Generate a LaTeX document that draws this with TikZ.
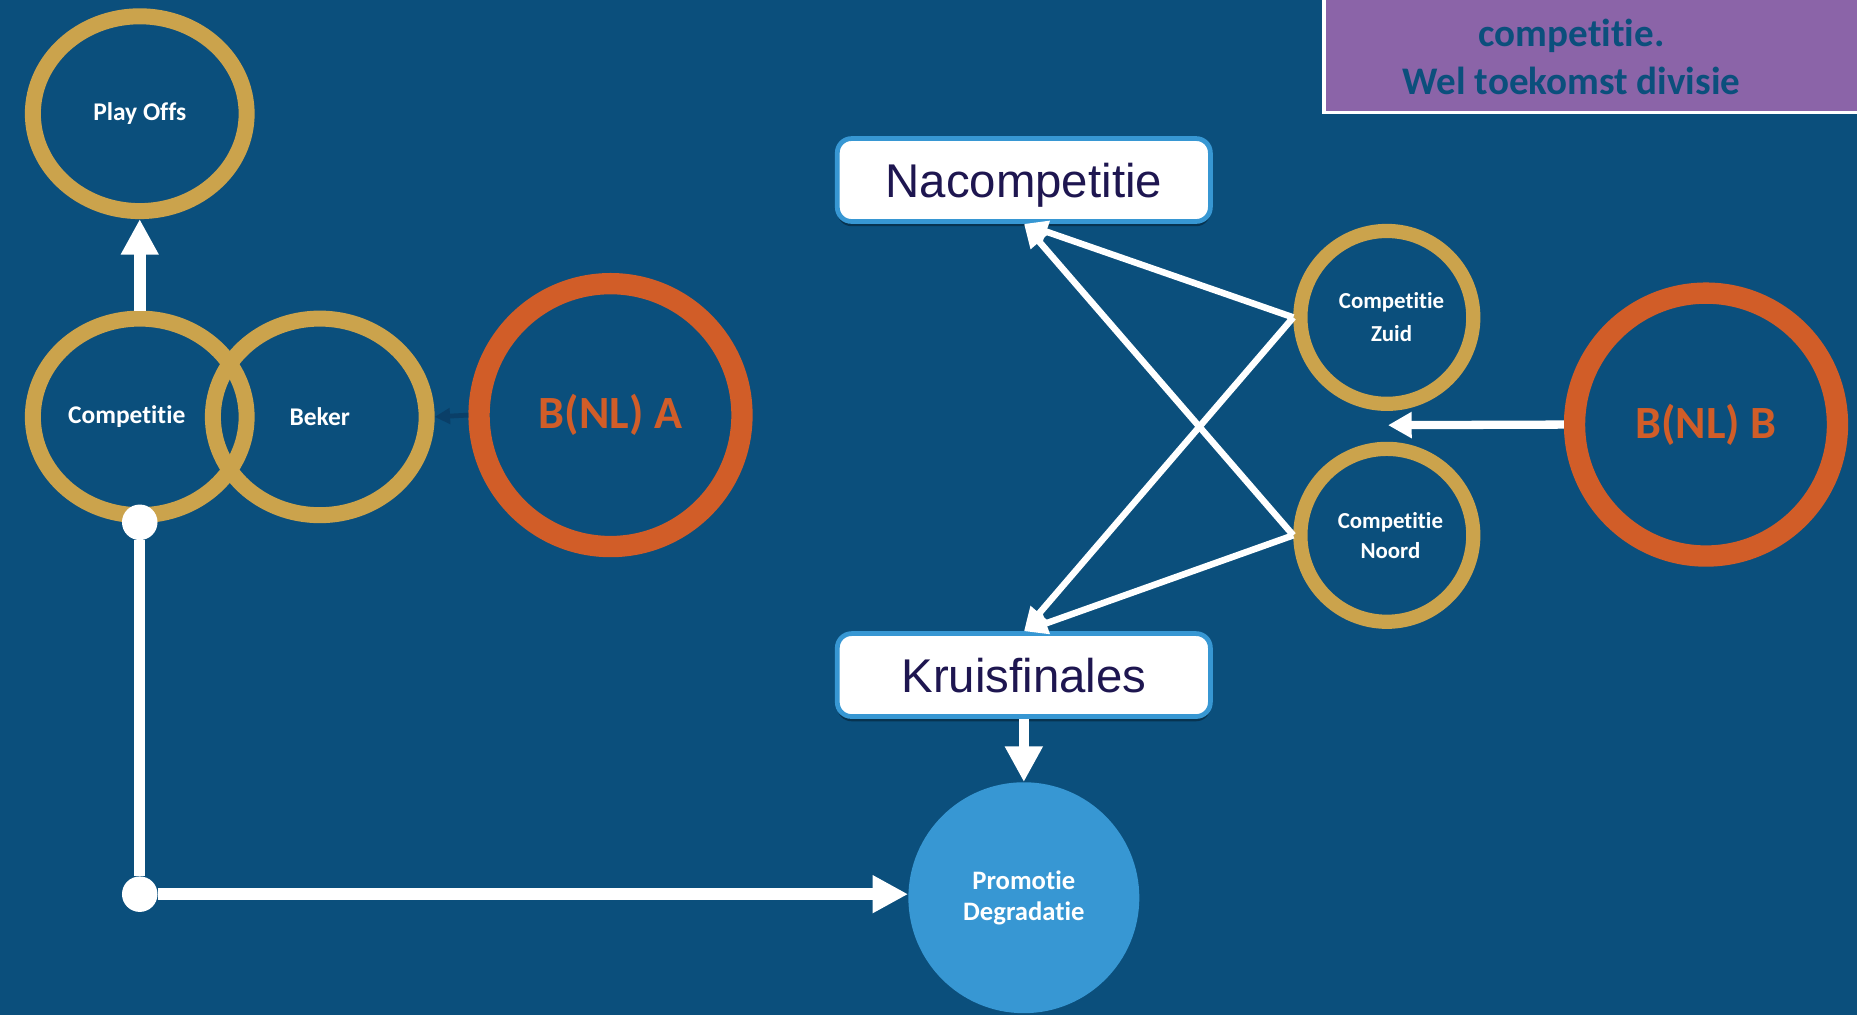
\documentclass[tikz,border=0pt]{standalone}
\usepackage{fontspec}
\setmainfont{Carlito}[Ligatures={NoCommon}]
\newfontfamily\arialf{Liberation Sans}
\usetikzlibrary{shapes.geometric,arrows.meta,shadows}
\definecolor{bg}{HTML}{0B4F7C}
\definecolor{gold}{HTML}{CBA34C}
\definecolor{orng}{HTML}{D15D28}
\definecolor{lblue}{HTML}{3797D3}
\definecolor{purp}{HTML}{8B64A8}
\definecolor{navytxt}{HTML}{1E1650}
\definecolor{darkarr}{HTML}{0A3F68}
\begin{document}
\begin{tikzpicture}[x=1pt,y=-1pt,
  ring/.style={ellipse, draw=gold, line width=13.5pt, inner sep=0pt, text=white,
    font=\bfseries\fontsize{21.5}{26}\selectfont, align=center},
  smallring/.style={ring, line width=12pt, minimum width=146pt, minimum height=146pt,
    font=\bfseries\fontsize{19.3}{25}\selectfont},
  bring/.style={circle, draw=orng, line width=18pt, inner sep=0pt, minimum size=222pt,
    text=orng, font=\bfseries\fontsize{39}{44}\selectfont},
  boxnode/.style={rectangle, rounded corners=12pt, draw=lblue, line width=4pt, fill=white,
    minimum width=315pt, minimum height=70pt, text=navytxt, text depth=0pt,
    font=\arialf\fontsize{40}{48}\selectfont,
    drop shadow={shadow xshift=0pt, shadow yshift=-4pt, opacity=0.35, fill=black}},
  dotnode/.style={circle, fill=white, inner sep=0pt, minimum size=30pt},
  bigarrow/.style={white, line width=10pt, -{Triangle[width=30pt,length=30pt]}},
  xarrow/.style={white, line width=5.5pt, -{Triangle[width=18pt,length=20pt]}}
]
\fill[bg] (0,0) rectangle (1568,857);
\useasboundingbox (0,0) rectangle (1568,857);

% purple note box
\node[rectangle, draw=white, line width=3pt, fill=purp, minimum width=470pt,
  minimum height=130pt, anchor=south west, inner sep=0pt] (pbox) at (1116.5,96.5) {};
\node[font=\bfseries\fontsize{33}{41}\selectfont, text=bg, align=center] (ptext)
  at (1327,48) {competitie.\\Wel toekomst divisie};

% left group
\node[ring, minimum width=180.5pt, minimum height=164.5pt] (play) at (118,96) {Play Offs};
\node[ring, minimum width=180.5pt, minimum height=166pt] (beker) at (270,352) {Beker};
\node[ring, minimum width=180.5pt, minimum height=166pt] (comp) at (118,352) {Competitie\hspace*{22pt}};
\node[bring] (bnla) at (515.5,350.5) {\raisebox{-3pt}{B(NL) A}};

% right group
\node[smallring] (zuid) at (1171,268) {\hspace*{8pt}Competitie\\\raisebox{-3pt}{\hspace*{8pt}Zuid}};
\node[smallring] (noord) at (1171,452) {\hspace*{6pt}Competitie\\\hspace*{6pt}Noord};
\node[bring] (bnlb) at (1440.5,358.5) {B(NL) B};
\coordinate (bnlbtip) at (1172,359);

\node[boxnode] (naco) at (864.5,152) {Nacompetitie};
\node[boxnode] (kruis) at (864.5,570) {Kruisfinales};

\node[circle, fill=lblue, inner sep=0pt, minimum size=195pt, text=white, align=center,
  font=\bfseries\fontsize{22.5}{26}\selectfont] (promo) at (864.5,758) {Promotie\\Degradatie};

\node[dotnode] (d1) at (118,441) {};
\node[dotnode] (d2) at (118,755) {};

% connectors
\draw[bigarrow] (comp.north) -- (play.south);
\draw[white, line width=9pt] (d1) -- (d2);
\draw[bigarrow] (d2) -- (d2 -| promo.west);
\draw[white, line width=9pt, -{Triangle[width=30pt,length=30pt]}] (kruis.south) -- (promo.north);
\draw[darkarr, line width=4pt, -{Triangle[width=13pt,length=13pt]}] (bnla.west) -- (beker.east);
\draw[white, line width=7pt, -{Triangle[width=21pt,length=20pt]}] (bnlb.west) -- (bnlbtip);

\draw[xarrow] (zuid.west) -- (naco.south);
\draw[xarrow] (noord.west) -- (naco.south);
\draw[xarrow] (zuid.west) -- (kruis.north);
\draw[xarrow] (noord.west) -- (kruis.north);
\end{tikzpicture}
\end{document}
